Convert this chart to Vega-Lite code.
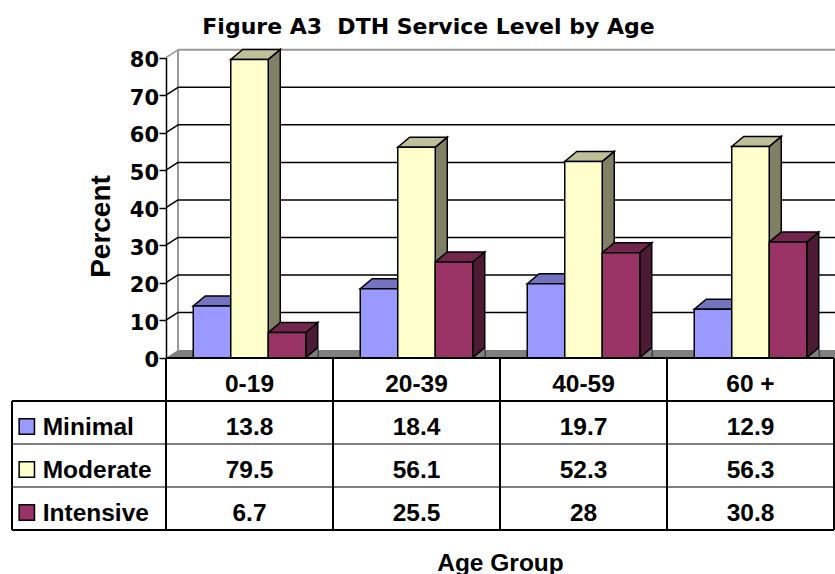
{
  "$schema": "https://vega.github.io/schema/vega-lite/v6.json",
  "width": 835,
  "height": 358,
  "autosize": {"type": "none"},
  "padding": {"left": 0, "top": 0, "right": 0, "bottom": 216},
  "background": "white",
  "config": {"view": {"stroke": null}, "font": "Liberation Sans"},
  "title": {
    "text": "Figure A3\u00a0 DTH Service Level by Age",
    "font": "DejaVu Sans",
    "fontSize": 22,
    "fontWeight": "bold",
    "color": "black",
    "anchor": "middle",
    "frame": "group",
    "dx": 11,
    "offset": -56,
    "baseline": "alphabetic"
  },
  "datasets": {
    "levels": [
      {"age": "0-19", "series": "Minimal", "value": 13.8},
      {"age": "0-19", "series": "Moderate", "value": 79.5},
      {"age": "0-19", "series": "Intensive", "value": 6.7},
      {"age": "20-39", "series": "Minimal", "value": 18.4},
      {"age": "20-39", "series": "Moderate", "value": 56.1},
      {"age": "20-39", "series": "Intensive", "value": 25.5},
      {"age": "40-59", "series": "Minimal", "value": 19.7},
      {"age": "40-59", "series": "Moderate", "value": 52.3},
      {"age": "40-59", "series": "Intensive", "value": 28},
      {"age": "60 +", "series": "Minimal", "value": 12.9},
      {"age": "60 +", "series": "Moderate", "value": 56.3},
      {"age": "60 +", "series": "Intensive", "value": 30.8}
    ],
    "ticks": [{"v": 10}, {"v": 20}, {"v": 30}, {"v": 40}, {"v": 50}, {"v": 60}, {"v": 70}]
  },
  "layer": [
    {
      "layer": [
        {
          "data": {"values": [{}]},
          "mark": {"type": "rect", "color": "#808080", "y2Offset": -7.7, "x2Offset": 1},
          "encoding": {
            "x": {"datum": "0-19", "type": "nominal", "bandPosition": 0.0719,
              "scale": {"type": "band", "domain": ["legend", "0-19", "20-39", "40-59", "60 +"], "range": [-1, 834], "paddingInner": 0, "paddingOuter": 0}},
            "x2": {"datum": "60 +", "bandPosition": 1},
            "y": {"datum": 0, "type": "quantitative",
              "scale": {"domain": [0, 80], "range": [357.7, 57.5], "nice": false, "zero": false}},
            "y2": {"datum": 0}
          }
        },
        {
          "data": {"values": [{}]},
          "mark": {"type": "point", "shape": "M0,0L1,0L1,-0.6417Z", "size": 576, "filled": true, "opacity": 1, "color": "#808080", "strokeWidth": 0},
          "encoding": {
            "x": {"datum": "0-19", "type": "nominal", "bandPosition": 0},
            "y": {"datum": 0, "type": "quantitative"}
          }
        },
        {
          "data": {"values": [{}]},
          "mark": {"type": "rule", "color": "#999999", "strokeWidth": 2, "yOffset": -7.7, "y2Offset": -7.7},
          "encoding": {
            "x": {"datum": "0-19", "type": "nominal", "bandPosition": 0.0719},
            "y": {"datum": 80, "type": "quantitative"},
            "y2": {"datum": 0}
          }
        },
        {
          "data": {"values": [{}]},
          "mark": {"type": "rule", "color": "#999999", "strokeWidth": 2, "yOffset": -7.7, "x2Offset": 1},
          "encoding": {
            "x": {"datum": "0-19", "type": "nominal", "bandPosition": 0.0719},
            "x2": {"datum": "60 +", "bandPosition": 1},
            "y": {"datum": 80, "type": "quantitative"}
          }
        },
        {
          "data": {"values": [{}]},
          "mark": {"type": "rule", "color": "#999999", "strokeWidth": 1.5, "y2Offset": -7.7},
          "encoding": {
            "x": {"datum": "0-19", "type": "nominal", "bandPosition": 0},
            "x2": {"datum": "0-19", "bandPosition": 0.0719},
            "y": {"datum": 80, "type": "quantitative"},
            "y2": {"datum": 80}
          }
        },
        {
          "data": {"name": "ticks"},
          "mark": {"type": "rule", "color": "black", "strokeWidth": 1.5, "yOffset": -7.7, "x2Offset": 1},
          "encoding": {
            "x": {"datum": "0-19", "type": "nominal", "bandPosition": 0.0719},
            "x2": {"datum": "60 +", "bandPosition": 1},
            "y": {"field": "v", "type": "quantitative"}
          }
        },
        {
          "data": {"name": "ticks"},
          "mark": {"type": "rule", "color": "black", "strokeWidth": 1.5, "y2Offset": -7.7},
          "encoding": {
            "x": {"datum": "0-19", "type": "nominal", "bandPosition": 0},
            "x2": {"datum": "0-19", "bandPosition": 0.0719},
            "y": {"field": "v", "type": "quantitative"},
            "y2": {"field": "v"}
          }
        },
        {
          "data": {"name": "levels"},
          "mark": {"type": "point", "shape": "M1,0L1.64,-0.5333L1.64,20.8L1,21.3333Z", "size": 1406.25, "filled": true, "opacity": 1, "stroke": "black", "strokeWidth": 1.5, "clip": true},
          "encoding": {
            "x": {"field": "age", "type": "nominal"},
            "xOffset": {"field": "series", "type": "nominal", "scale": {"domain": ["Minimal", "Moderate", "Intensive"], "paddingInner": 0, "paddingOuter": 0.7267}},
            "y": {"field": "value", "type": "quantitative"},
            "color": {"field": "series", "type": "nominal", "legend": null,
              "scale": {"domain": ["Minimal", "Moderate", "Intensive"], "range": ["#4D4D80", "#808066", "#4D1A33"]}}
          }
        },
        {
          "data": {"name": "levels"},
          "mark": {"type": "point", "shape": "M1.64,0L1,0L1.64,-0.5333", "size": 1406.25, "filled": true, "opacity": 1, "color": "#808080", "stroke": "black", "strokeWidth": 1.5},
          "encoding": {
            "x": {"field": "age", "type": "nominal"},
            "xOffset": {"field": "series", "type": "nominal"},
            "y": {"datum": 0, "type": "quantitative"}
          }
        },
        {
          "data": {"name": "levels"},
          "mark": {"type": "point", "shape": "M-1,0L1,0L1.64,-0.5333L-0.36,-0.5333Z", "size": 1406.25, "filled": true, "opacity": 1, "stroke": "black", "strokeWidth": 1.5},
          "encoding": {
            "x": {"field": "age", "type": "nominal"},
            "xOffset": {"field": "series", "type": "nominal"},
            "y": {"field": "value", "type": "quantitative"},
            "color": {"field": "series", "type": "nominal", "legend": null,
              "scale": {"domain": ["Minimal", "Moderate", "Intensive"], "range": ["#7373BF", "#BFBF99", "#73264D"]}}
          }
        },
        {
          "data": {"name": "levels"},
          "mark": {"type": "bar", "stroke": "black", "strokeWidth": 1.5},
          "encoding": {
            "x": {"field": "age", "type": "nominal",
              "axis": {"orient": "bottom", "labels": false, "ticks": false, "domain": false, "grid": false,
                "title": "Age Group", "titleFont": "Liberation Sans", "titleFontSize": 24.5, "titleFontWeight": "bold", "titleColor": "black",
                "titleX": 500, "titleY": 212, "titleBaseline": "alphabetic", "titleAlign": "center"}},
            "xOffset": {"field": "series", "type": "nominal"},
            "y": {"field": "value", "type": "quantitative",
              "axis": {"orient": "left", "offset": -166, "values": [0, 10, 20, 30, 40, 50, 60, 70, 80],
                "domain": true, "domainColor": "black", "domainWidth": 1.5,
                "ticks": true, "tickSize": 7, "tickColor": "black", "tickWidth": 1.5,
                "labelFont": "DejaVu Sans", "labelFontSize": 21, "labelFontWeight": "bold", "labelColor": "black",
                "labelPadding": 0.5, "labelOffset": 3, "labelFlush": false, "labelOverlap": false, "grid": false,
                "title": "Percent", "titleFont": "Liberation Sans", "titleFontSize": 28, "titleFontWeight": "bold", "titleColor": "black",
                "titleX": -65, "titleY": 226, "titleAngle": -90, "titleAlign": "center", "titleBaseline": "middle", "zindex": 1}},
            "color": {"field": "series", "type": "nominal", "legend": null,
              "scale": {"domain": ["Minimal", "Moderate", "Intensive"], "range": ["#9999FF", "#FFFFCC", "#993366"]}}
          }
        }
      ],
      "resolve": {"scale": {"color": "independent"}}
    },
    {
      "layer": [
        {
          "data": {"name": "levels"},
          "transform": [{"filter": "datum.series === 'Minimal'"}],
          "mark": {"type": "text", "font": "Liberation Sans", "fontSize": 24.5, "fontWeight": "bold", "color": "black", "baseline": "middle", "dy": 5},
          "encoding": {
            "x": {"field": "age", "type": "nominal"},
            "y": {"datum": "Age", "type": "nominal", "axis": null,
              "scale": {"type": "band", "domain": ["Age", "Minimal", "Moderate", "Intensive"], "range": [358, 530], "paddingInner": 0, "paddingOuter": 0}},
            "text": {"field": "age", "type": "nominal"}
          }
        },
        {
          "data": {"name": "levels"},
          "mark": {"type": "text", "font": "Liberation Sans", "fontSize": 24.5, "fontWeight": "bold", "color": "black", "baseline": "middle", "dy": 5},
          "encoding": {
            "x": {"field": "age", "type": "nominal"},
            "y": {"field": "series", "type": "nominal", "axis": null},
            "text": {"field": "value", "type": "nominal"}
          }
        },
        {
          "data": {"name": "levels"},
          "transform": [{"filter": "datum.age === '0-19'"}],
          "mark": {"type": "text", "font": "Liberation Sans", "fontSize": 24.5, "fontWeight": "bold", "color": "black", "baseline": "middle", "align": "left", "dy": 5},
          "encoding": {
            "x": {"datum": "legend", "type": "nominal", "bandPosition": 0.2617},
            "y": {"field": "series", "type": "nominal", "axis": null},
            "text": {"field": "series", "type": "nominal"}
          }
        },
        {
          "data": {"name": "levels"},
          "transform": [{"filter": "datum.age === '0-19'"}],
          "mark": {"type": "point", "shape": "square", "size": 235, "filled": true, "opacity": 1, "stroke": "black", "strokeWidth": 1.5, "yOffset": 4},
          "encoding": {
            "x": {"datum": "legend", "type": "nominal", "bandPosition": 0.1665},
            "y": {"field": "series", "type": "nominal", "axis": null},
            "color": {"field": "series", "type": "nominal", "legend": null,
              "scale": {"domain": ["Minimal", "Moderate", "Intensive"], "range": ["#9999FF", "#FFFFCC", "#993366"]}}
          }
        },
        {
          "data": {"name": "levels"},
          "transform": [{"filter": "datum.series === 'Minimal'"}],
          "mark": {"type": "rule", "color": "black", "strokeWidth": 2},
          "encoding": {
            "x": {"field": "age", "type": "nominal", "bandPosition": 0},
            "y": {"datum": "Age", "type": "nominal", "bandPosition": 0, "axis": null},
            "y2": {"datum": "Intensive", "bandPosition": 1}
          }
        },
        {
          "data": {"values": [{}]},
          "mark": {"type": "rule", "color": "black", "strokeWidth": 2},
          "encoding": {
            "x": {"datum": "60 +", "type": "nominal", "bandPosition": 1},
            "y": {"datum": "Age", "type": "nominal", "bandPosition": 0, "axis": null},
            "y2": {"datum": "Intensive", "bandPosition": 1}
          }
        },
        {
          "data": {"values": [{}]},
          "mark": {"type": "rule", "color": "black", "strokeWidth": 2},
          "encoding": {
            "x": {"datum": "legend", "type": "nominal", "bandPosition": 0.0778},
            "y": {"datum": "Minimal", "type": "nominal", "bandPosition": 0, "axis": null},
            "y2": {"datum": "Intensive", "bandPosition": 1}
          }
        },
        {
          "data": {"name": "levels"},
          "transform": [{"filter": "datum.age === '0-19' && datum.series !== 'Minimal'"}],
          "mark": {"type": "rule", "color": "black", "strokeWidth": 1},
          "encoding": {
            "x": {"datum": "legend", "type": "nominal", "bandPosition": 0.0778},
            "x2": {"datum": "60 +", "bandPosition": 1},
            "y": {"field": "series", "type": "nominal", "bandPosition": 0, "axis": null}
          }
        },
        {
          "data": {"values": [{}]},
          "mark": {"type": "rule", "color": "black", "strokeWidth": 2},
          "encoding": {
            "x": {"datum": "legend", "type": "nominal", "bandPosition": 0.0778},
            "x2": {"datum": "60 +", "bandPosition": 1},
            "y": {"datum": "Minimal", "type": "nominal", "bandPosition": 0, "axis": null}
          }
        },
        {
          "data": {"values": [{}]},
          "mark": {"type": "rule", "color": "black", "strokeWidth": 2},
          "encoding": {
            "x": {"datum": "legend", "type": "nominal", "bandPosition": 0.0778},
            "x2": {"datum": "60 +", "bandPosition": 1},
            "y": {"datum": "Intensive", "type": "nominal", "bandPosition": 1, "axis": null}
          }
        },
        {
          "data": {"values": [{}]},
          "mark": {"type": "rule", "color": "black", "strokeWidth": 2},
          "encoding": {
            "x": {"datum": "0-19", "type": "nominal", "bandPosition": 0},
            "x2": {"datum": "60 +", "bandPosition": 1},
            "y": {"datum": "Age", "type": "nominal", "bandPosition": 0, "axis": null}
          }
        }
      ]
    }
  ],
  "resolve": {"scale": {"y": "independent", "color": "independent"}}
}
